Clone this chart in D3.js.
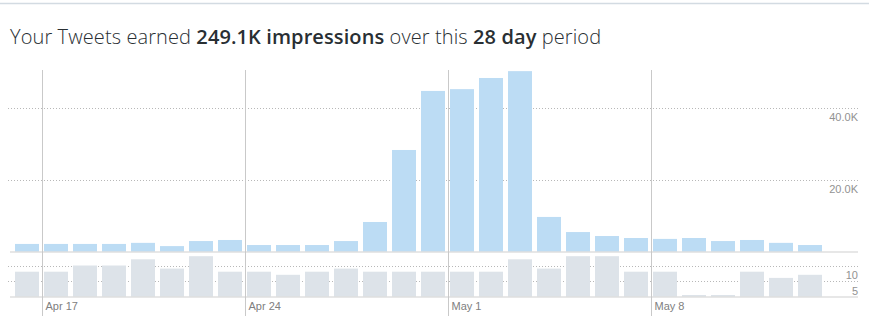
<!DOCTYPE html>
<html>
<head>
<meta charset="utf-8">
<script src="https://cdn.jsdelivr.net/npm/d3@7"></script>
<style>
  html, body { margin: 0; padding: 0; background: #fff; }
  svg { display: block; }
</style>
</head>
<body>
<svg id="chart" width="869" height="331"></svg>
<script>
// 28 days of tweet activity, Apr 16 – May 13
const startDay = new Date(2017, 3, 16);
const days = d3.range(28).map(i => d3.timeDay.offset(startDay, i));

// Daily impressions
const impressions = [
  2100, 2100, 2100, 2100, 2400, 1500, 2900, 3200, 1800, 1800,
  1800, 2900, 8200, 28200, 44600, 45100, 48200, 50100, 9600, 5400,
  4300, 3750, 3500, 3750, 2900, 3200, 2400, 1800
];

// Daily engagements
const engagements = [
  8, 8, 10, 10, 12, 9, 13, 8, 8, 7,
  8, 9, 8, 8, 8, 8, 8, 12, 9, 13,
  13, 8, 8, 0, 0, 8, 6, 7
];

const impressionTicks = [20000, 40000];
const engagementTicks = [5, 10];
const dateTicks = [new Date(2017, 3, 17), new Date(2017, 3, 24), new Date(2017, 4, 1), new Date(2017, 4, 8)];

const svg = d3.select("#chart");

// top border of the card
svg.append("line")
  .attr("x1", 0).attr("x2", 869).attr("y1", 3.5).attr("y2", 3.5)
  .attr("stroke", "#d3dbe2").attr("stroke-width", 1.5);

// headline
const title = svg.append("text")
  .attr("x", 10).attr("y", 44)
  .attr("font-family", "'Open Sans', sans-serif")
  .attr("font-size", 20)
  .attr("letter-spacing", 0.1)
  .attr("font-weight", 300)
  .attr("fill", "#292f33");
title.append("tspan").text("Your Tweets earned ");
title.append("tspan").attr("font-weight", 600).text("249.1K impressions");
title.append("tspan").text(" over this ");
title.append("tspan").attr("font-weight", 600).text("28 day");
title.append("tspan").text(" period");

const p = 5 / 29;
const x = d3.scaleBand()
  .domain(days.map(d => +d))
  .range([12.5, 824.5])
  .paddingInner(p)
  .paddingOuter(p / 2);
const slotEdge = d => x(+d) - x.step() * p / 2;

const yTop = d3.scaleLinear().domain([0, 50000]).range([251.5, 71.5]);
const yBot = d3.scaleLinear().domain([0, 10]).range([296.5, 265.5]);

const gridLeft = 8, gridRight = 858;
const labelFont = "'Liberation Sans', Arial, sans-serif";

// dotted gridlines
function grid(scale, ticks, fmt) {
  const g = svg.append("g");
  g.selectAll("line").data(ticks).join("line")
    .attr("x1", gridLeft).attr("x2", gridRight)
    .attr("y1", d => Math.round(scale(d)) + 0.5)
    .attr("y2", d => Math.round(scale(d)) + 0.5)
    .attr("stroke", "#b8b8b8")
    .attr("stroke-dasharray", "1,2");
  g.selectAll("text").data(ticks).join("text")
    .attr("x", gridRight)
    .attr("y", d => scale(d) + 13.5)
    .attr("text-anchor", "end")
    .attr("font-family", labelFont)
    .attr("font-size", 11)
    .attr("fill", "#929292")
    .text(fmt);
}
grid(yTop, impressionTicks, d => d3.format(".1f")(d / 1000) + "K");
grid(yBot, engagementTicks, d => d);

// impressions bars
svg.append("g").selectAll("rect").data(impressions).join("rect")
  .attr("x", (d, i) => x(+days[i]))
  .attr("width", x.bandwidth())
  .attr("y", d => yTop(d))
  .attr("height", d => yTop(0) - yTop(d))
  .attr("fill", "#bcdcf4");

// engagement bars (empty days keep a thin stub)
svg.append("g").selectAll("rect").data(engagements).join("rect")
  .attr("x", (d, i) => x(+days[i]))
  .attr("width", x.bandwidth())
  .attr("y", d => yBot(0) - Math.max(1.5, yBot(0) - yBot(d)))
  .attr("height", d => Math.max(1.5, yBot(0) - yBot(d)))
  .attr("fill", "#dde3e9");

// baselines
[yTop(0), yBot(0)].forEach(y0 => {
  svg.append("line")
    .attr("x1", 10).attr("x2", gridRight)
    .attr("y1", y0 + 0.5).attr("y2", y0 + 0.5)
    .attr("stroke", "#cfcfcf");
});

// week markers
const wk = svg.append("g");
wk.selectAll("line").data(dateTicks).join("line")
  .attr("x1", d => Math.round(slotEdge(d)) + 0.5)
  .attr("x2", d => Math.round(slotEdge(d)) + 0.5)
  .attr("y1", 70).attr("y2", 316)
  .attr("stroke", "#c9c9c9");
wk.selectAll("text").data(dateTicks).join("text")
  .attr("x", d => slotEdge(d) + 4)
  .attr("y", 310)
  .attr("font-family", labelFont)
  .attr("font-size", 11)
  .attr("fill", "#808080")
  .text(d3.timeFormat("%b %-d"));
</script>
</body>
</html>
